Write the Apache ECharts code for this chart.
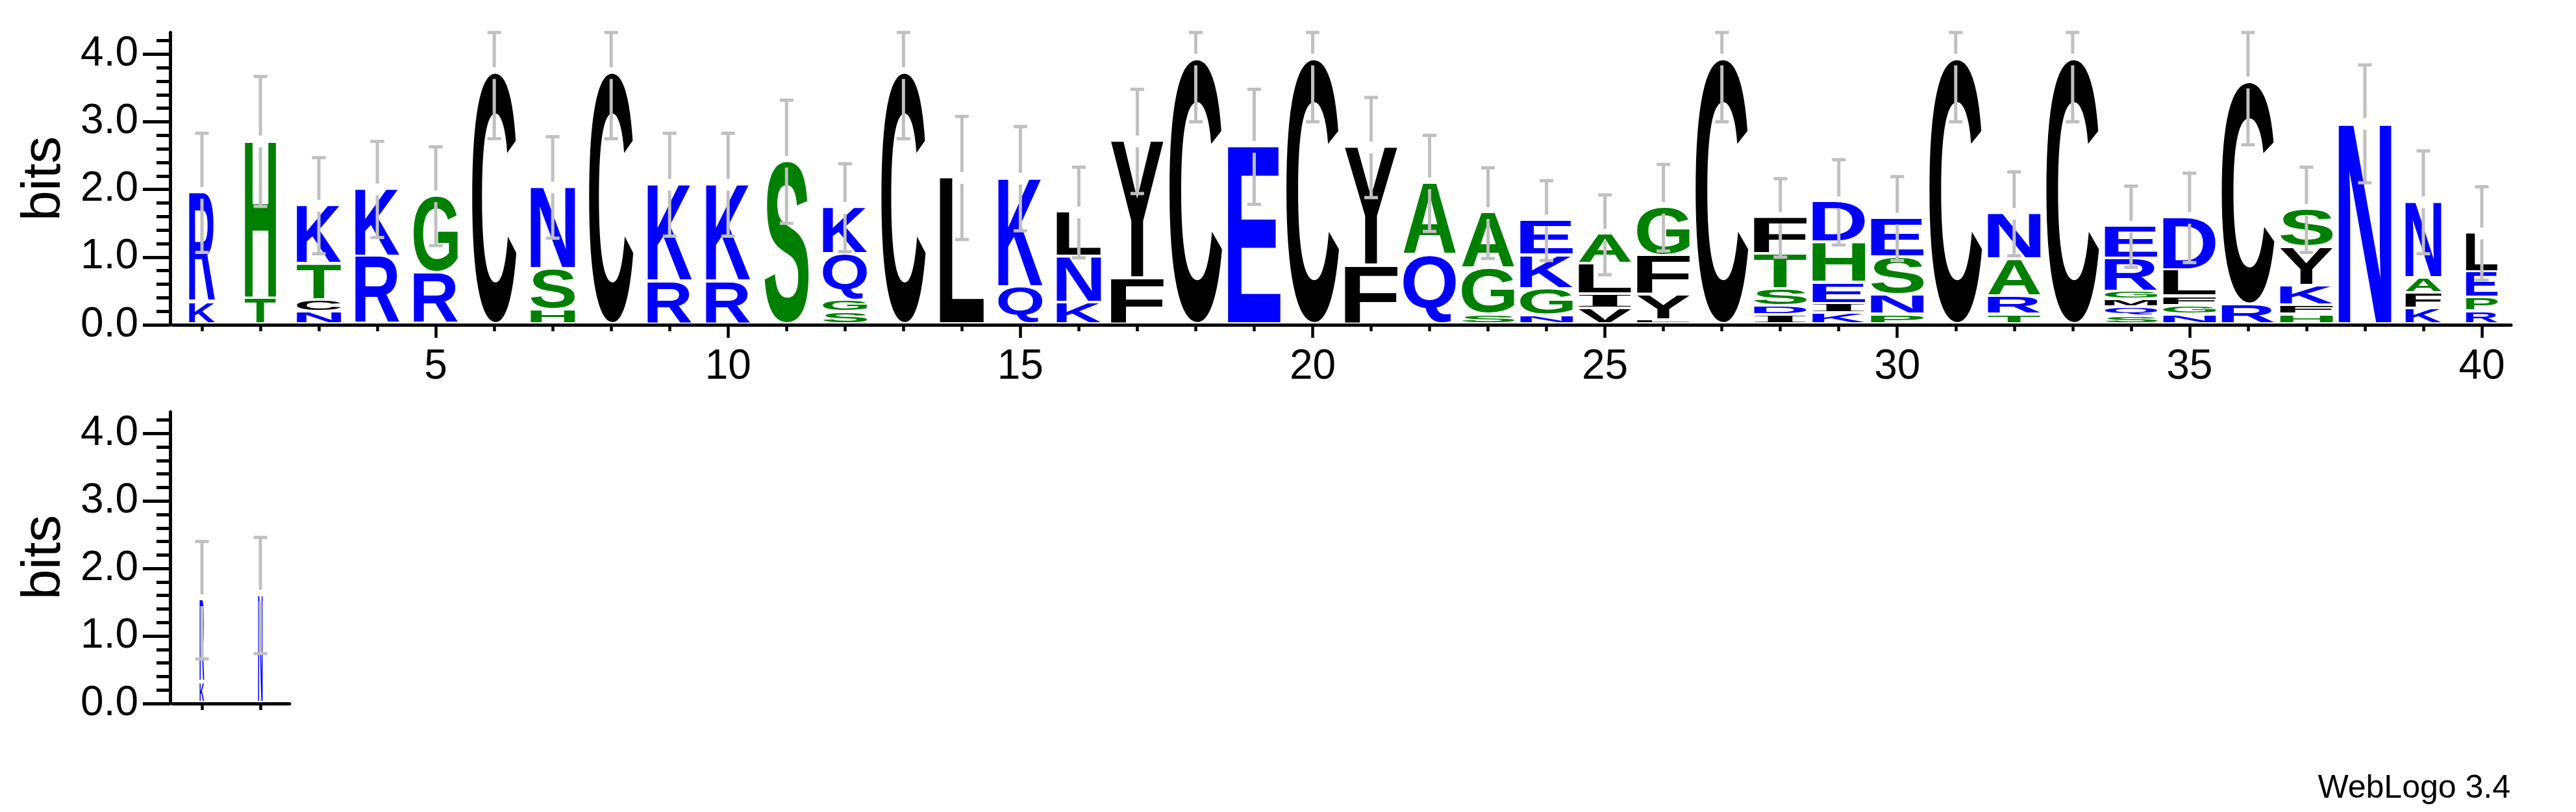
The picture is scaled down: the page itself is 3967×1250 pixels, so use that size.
<!DOCTYPE html>
<html>
<head>
<meta charset="utf-8">
<script src="https://cdn.jsdelivr.net/npm/echarts@6/dist/echarts.min.js"></script>
<style>
html,body{margin:0;padding:0;background:#ffffff;}
#chart{width:3967px;height:1250px;}
</style>
</head>
<body>
<div id="chart"></div>
<script>
// ---------------- DATA ----------------
// top logo: positions 1..40
const positions = [1,2,3,4,5,6,7,8,9,10,11,12,13,14,15,16,17,18,19,20,21,22,23,24,25,26,27,28,29,30,31,32,33,34,35,36,37,38,39,40];
// letters of each stack, from bottom to top
const stackLetters = ['KR','TH','NCTK','RK','RG','C','HSN','C','RK','RK','S','SGQK','C','L','QK','KNL','FY','C','E','C',
  'FY','QA','SGA','NGKE','VILA','LYFG','C','IDSTF','KIEHD','PNSE','C','TRAN','C','SQMGRE','NGFLD','RC','HFKYS','N','KFAN','RPEL'];
// height (bits) of each letter, same order
const stackHeights = [
  [0.32,1.63],[0.38,2.33],[0.18,0.18,0.53,0.87],[1.00,1.00],[0.76,1.14],[3.72],[0.21,0.61,1.21],[3.72],[0.63,1.44],[0.63,1.44],
  [2.41],[0.18,0.17,0.69,0.69],[3.72],[2.17],[0.55,1.61],[0.32,0.68,0.66],[0.68,2.03],[3.92],[2.63],[3.92],
  [0.87,1.75],[1.02,1.07],[0.14,0.68,0.83],[0.13,0.39,0.50,0.52],[0.23,0.21,0.45,0.44],[0.06,0.37,0.58,0.72],[3.92],[0.13,0.14,0.25,0.52,0.54],[0.16,0.14,0.31,0.60,0.60],[0.14,0.29,0.56,0.58],
  [3.92],[0.14,0.27,0.55,0.68],[3.92],[0.11,0.14,0.11,0.12,0.49,0.48],[0.14,0.13,0.14,0.39,0.78],[0.29,3.29],[0.14,0.14,0.29,0.57,0.56],[2.97],[0.23,0.23,0.22,1.13],[0.19,0.20,0.38,0.58]
];
// +/- error of each stack (bits)
const stackErrors = [0.88,0.96,0.71,0.71,0.73,0.97,0.75,0.97,0.76,0.76,0.91,0.65,0.97,0.91,0.77,0.67,0.77,0.92,0.85,0.92,
  0.74,0.71,0.67,0.59,0.59,0.64,0.92,0.58,0.63,0.62,0.92,0.62,0.92,0.60,0.66,0.92,0.63,0.87,0.76,0.69];
// fraction of symbols (non-gap) in each column -> stack width
const stackWidths = [0.49,0.59,0.84,0.84,0.84,0.84,0.84,0.84,0.84,0.84,0.84,0.84,0.84,0.84,0.84,0.84,
  1,1,1,1,1,1,1,1,1,1,1,1,1,1,1,1,1,1,1,1,1,1,0.68,0.60];

// bottom logo: positions 41..42
const positions2 = [41,42];
const stackLetters2 = ['KR','N'];
const stackHeights2 = [[0.30,1.23],[1.60]];
const stackErrors2 = [0.87,0.86];
const stackWidths2 = [0.086,0.086];

// axes ticks
const yMajorTicks = [0,1,2,3,4];
const yMinorTicks = [0.2,0.4,0.6,0.8,1.2,1.4,1.6,1.8,2.2,2.4,2.6,2.8,3.2,3.4,3.6,3.8,4.2];
const xLabelTicks = [5,10,15,20,25,30,35,40];
const Y_MAX = 4.32;

// ---------------- STYLE ----------------
const ALPHA = 'ACDEFGHIKLMNPQRSTVWY';
const COLORS = {blue:'#0000ff', green:'#008000', black:'#000000'};
function letterColor(ch){
  if ('RKDENQ'.indexOf(ch) >= 0) return COLORS.blue;
  if ('SGHTAP'.indexOf(ch) >= 0) return COLORS.green;
  return COLORS.black;
}
const SANS_FONT = 'bold 200px "Liberation Sans"';
const SERIF_FONT = 'bold 200px "Liberation Serif"';
const LABEL_FONT = '"Liberation Sans"';
const STACK_FRAC = 0.9;
const LETTER_GAP = 4;
const ERR_COLOR = '#c0c0c0';
const ERR_W = 5, ERR_CAP = 21, ERR_GAP = 9;

const mctx = document.createElement('canvas').getContext('2d');
const glyphCache = {};
function glyph(ch, font){
  const k = font + ch;
  if (glyphCache[k]) return glyphCache[k];
  mctx.font = font; mctx.textAlign = 'center'; mctx.textBaseline = 'middle';
  const m = mctx.measureText(ch);
  const g = {L: m.actualBoundingBoxLeft, R: m.actualBoundingBoxRight, A: m.actualBoundingBoxAscent, D: m.actualBoundingBoxDescent};
  glyphCache[k] = g; return g;
}

function buildLetterData(pos, letters, heights, widths){
  const out = [];
  pos.forEach((p, i) => {
    let y = 0;
    for (let j = 0; j < letters[i].length; j++){
      const h = heights[i][j];
      out.push([p, y, y + h, widths[i], ALPHA.indexOf(letters[i][j])]);
      y += h;
    }
  });
  return out;
}
function buildErrData(pos, heights, errs){
  return pos.map((p, i) => [p, heights[i].reduce((a, b) => a + b, 0), errs[i]]);
}

function letterRender(params, api){
  const pos = api.value(0), y0 = api.value(1), y1 = api.value(2), wf = api.value(3);
  const ch = ALPHA[api.value(4)];
  const pb = api.coord([pos, y0]), pt = api.coord([pos, y1]);
  const colW = api.size([1, 0])[0];
  const w = colW * STACK_FRAC * wf;
  const left = pb[0] - w / 2;
  const top = pt[1], bottom = pb[1] - LETTER_GAP;
  if (bottom - top < 0.5) return null;
  const font = ch === 'I' ? SERIF_FONT : SANS_FONT;
  const g = glyph(ch, font);
  const sx = w / (g.L + g.R), sy = (bottom - top) / (g.A + g.D);
  return {
    type: 'text', silent: true,
    x: left + g.L * sx, y: top + g.A * sy, scaleX: sx, scaleY: sy,
    style: {text: ch, x: 0, y: 0, font: font, fill: letterColor(ch), align: 'center', verticalAlign: 'middle'}
  };
}
function errRender(params, api){
  const pos = api.value(0), h = api.value(1), e = api.value(2);
  const lo = Math.max(0, h - e), hi = Math.min(Y_MAX, h + e);
  const pc = api.coord([pos, h]), pl = api.coord([pos, lo]), ph = api.coord([pos, hi]);
  const x = pc[0];
  const st = {stroke: ERR_COLOR, lineWidth: ERR_W};
  const ch = [];
  if (pc[1] - ERR_GAP > ph[1]) ch.push({type:'line', shape:{x1:x, y1:ph[1], x2:x, y2:pc[1] - ERR_GAP}, style: st});
  if (pc[1] + ERR_GAP < pl[1]) ch.push({type:'line', shape:{x1:x, y1:pc[1] + ERR_GAP, x2:x, y2:pl[1]}, style: st});
  ch.push({type:'line', shape:{x1:x - ERR_CAP/2, y1:ph[1], x2:x + ERR_CAP/2, y2:ph[1]}, style: st});
  ch.push({type:'line', shape:{x1:x - ERR_CAP/2, y1:pl[1], x2:x + ERR_CAP/2, y2:pl[1]}, style: st});
  return {type:'group', silent:true, children: ch};
}

// ---------------- CHART ----------------
const chart = echarts.init(document.getElementById('chart'), null, {renderer:'canvas', width:3967, height:1250});
const axisLineStyle = {show:true, onZero:false, lineStyle:{color:'#000', width:5}};
function yAxes(gridIndex, withLabels){
  return [
    {type:'value', gridIndex, min:0, max:Y_MAX, position:'left', offset:4,
     axisLine: axisLineStyle,
     axisTick:{show:true, customValues:yMajorTicks, length:42, lineStyle:{color:'#000', width:5}},
     axisLabel:{show:true, customValues:yMajorTicks, formatter:v => Number(v).toFixed(1), fontFamily:LABEL_FONT, fontSize:64, color:'#000', margin:49},
     splitLine:{show:false}},
    {type:'value', gridIndex, min:0, max:Y_MAX, position:'left', offset:4,
     axisLine:{show:false},
     axisTick:{show:true, customValues:yMinorTicks, length:21, lineStyle:{color:'#000', width:5}},
     axisLabel:{show:false}, splitLine:{show:false}}
  ];
}
const option = {
  animation:false,
  backgroundColor:'#ffffff',
  grid:[
    {left:266, top:50, width:3601, height:450},
    {left:266, top:634, width:180, height:449}
  ],
  xAxis:[
    {type:'value', gridIndex:0, min:0.5, max:40.5, position:'bottom',
     axisLine: axisLineStyle,
     axisTick:{show:true, customValues:positions, length:10, lineStyle:{color:'#000', width:4.5}},
     axisLabel:{show:false}, splitLine:{show:false}},
    {type:'value', gridIndex:0, min:0.5, max:40.5, position:'bottom',
     axisLine:{show:false, onZero:false},
     axisTick:{show:true, customValues:xLabelTicks, length:20, lineStyle:{color:'#000', width:4.5}},
     axisLabel:{show:true, customValues:xLabelTicks, fontFamily:LABEL_FONT, fontSize:64, color:'#000', margin:33},
     splitLine:{show:false}},
    {type:'value', gridIndex:1, min:40.5, max:42.5, position:'bottom',
     axisLine: axisLineStyle,
     axisTick:{show:true, customValues:positions2, length:10, lineStyle:{color:'#000', width:4.5}},
     axisLabel:{show:false}, splitLine:{show:false}}
  ],
  yAxis: yAxes(0).concat(yAxes(1)),
  graphic:[
    {type:'text', x:69, y:275, rotation:Math.PI/2, silent:true,
     style:{text:'bits', font:'84px "Liberation Sans"', fill:'#000', align:'center', verticalAlign:'middle'}},
    {type:'text', x:69, y:858, rotation:Math.PI/2, silent:true,
     style:{text:'bits', font:'84px "Liberation Sans"', fill:'#000', align:'center', verticalAlign:'middle'}},
    {type:'text', x:3866, y:1214, silent:true,
     style:{text:'WebLogo 3.4', font:'50px "Liberation Sans"', fill:'#000', align:'right', verticalAlign:'middle'}}
  ],
  series:[
    {type:'custom', xAxisIndex:0, yAxisIndex:0, silent:true, renderItem:letterRender,
     data: buildLetterData(positions, stackLetters, stackHeights, stackWidths), z:2},
    {type:'custom', xAxisIndex:0, yAxisIndex:0, silent:true, renderItem:errRender,
     data: buildErrData(positions, stackHeights, stackErrors), z:3},
    {type:'custom', xAxisIndex:2, yAxisIndex:2, silent:true, renderItem:letterRender,
     data: buildLetterData(positions2, stackLetters2, stackHeights2, stackWidths2), z:2},
    {type:'custom', xAxisIndex:2, yAxisIndex:2, silent:true, renderItem:errRender,
     data: buildErrData(positions2, stackHeights2, stackErrors2), z:3}
  ]
};
chart.setOption(option);
</script>
</body>
</html>
